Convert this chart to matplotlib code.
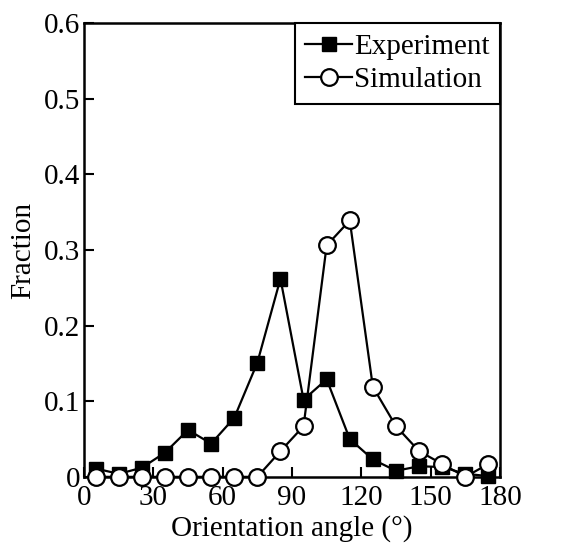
import numpy as np
import matplotlib
matplotlib.use('Agg')
import matplotlib.pyplot as plt

plt.rcParams['font.family'] = ['Liberation Serif', 'DejaVu Serif']

# orientation angle bin centres (degrees)
angle = [5, 15, 25, 35, 45, 55, 65, 75, 85, 95, 105, 115, 125, 135, 145, 155, 165, 175]

experiment = [0.011, 0.004, 0.012, 0.032, 0.062, 0.044, 0.078, 0.151, 0.262, 0.102,
              0.129, 0.050, 0.023, 0.008, 0.014, 0.013, 0.004, 0.001]
simulation = [0.0, 0.0, 0.0, 0.0, 0.0, 0.0, 0.0, 0.0, 0.034, 0.067,
              0.306, 0.339, 0.119, 0.067, 0.034, 0.017, 0.0, 0.017]

fig = plt.figure(figsize=(5.72, 5.5), dpi=100)
ax = fig.add_axes([0.147, 0.133, 0.727, 0.825])

ax.plot(angle, experiment, color='black', lw=1.6, marker='s', ms=10,
        mfc='black', mec='black', label='Experiment', clip_on=False, zorder=3)
ax.plot(angle, simulation, color='black', lw=1.6, marker='o', ms=12,
        mfc='white', mec='black', mew=1.6, label='Simulation', clip_on=False, zorder=4)

ax.set_xlim(0, 180)
ax.set_ylim(0, 0.6)
ax.set_xticks(np.arange(0, 181, 30))
ax.set_yticks(np.arange(0, 0.61, 0.1))
ax.set_yticklabels(['0', '0.1', '0.2', '0.3', '0.4', '0.5', '0.6'])

ax.tick_params(direction='in', length=7, width=1.5, labelsize=21)
ax.tick_params(axis='x', pad=6)
ax.tick_params(axis='y', pad=3)
for s in ax.spines.values():
    s.set_linewidth(1.8)

ax.set_xlabel('Orientation angle (°)', fontsize=21, labelpad=3)
ax.set_ylabel('Fraction', fontsize=21, labelpad=5)

leg = ax.legend(loc='upper right', borderaxespad=0, fancybox=False, fontsize=21,
                handlelength=1.6, handletextpad=0.08, borderpad=0.35,
                labelspacing=0.25, framealpha=1, edgecolor='black')
leg.get_frame().set_linewidth(1.5)

fig.savefig('out.png', dpi=100)
